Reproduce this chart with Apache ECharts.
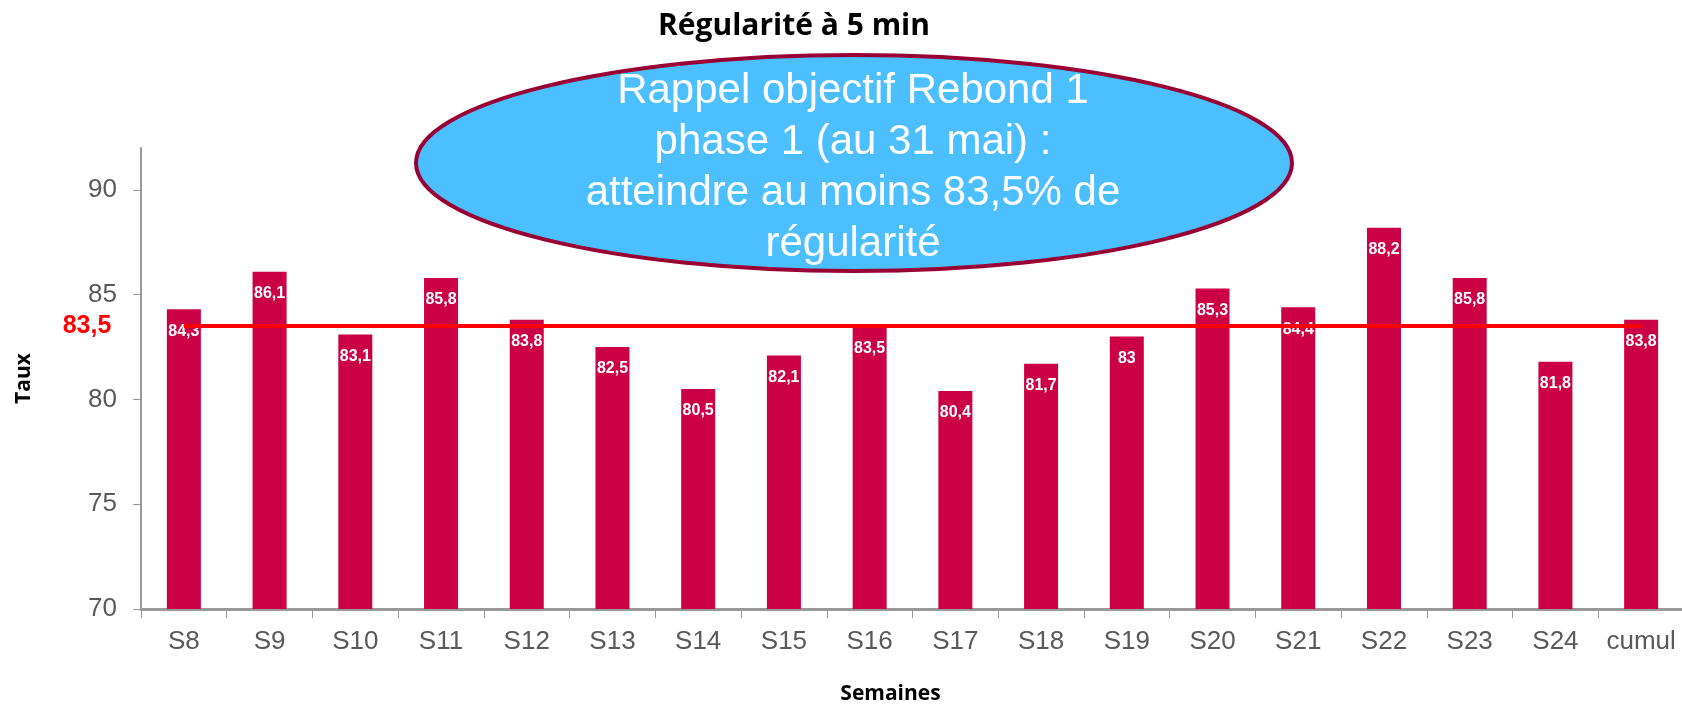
<!DOCTYPE html>
<html>
<head>
<meta charset="utf-8">
<script src="https://cdn.jsdelivr.net/npm/echarts@6/dist/echarts.min.js"></script>
<style>
html, body { margin: 0; padding: 0; background: #fff; }
#chart { width: 1682px; height: 705px; }
</style>
</head>
<body>
<div id="chart"></div>
<script>
var semaines = ['S8', 'S9', 'S10', 'S11', 'S12', 'S13', 'S14', 'S15', 'S16', 'S17', 'S18', 'S19', 'S20', 'S21', 'S22', 'S23', 'S24', 'cumul'];
var regularite = [84.3, 86.1, 83.1, 85.8, 83.8, 82.5, 80.5, 82.1, 83.5, 80.4, 81.7, 83, 85.3, 84.4, 88.2, 85.8, 81.8, 83.8];
var objectif = 83.5;
var rappelLignes = ['Rappel objectif Rebond 1', 'phase 1 (au 31 mai) :', 'atteindre au moins 83,5% de', 'régularité'];

var virgule = function (v) {
    return String(v).replace('.', ',');
};

// ligne objectif, etiquette seulement sur le premier point
var objectifData = semaines.map(function (s, i) {
    if (i === 0) {
        return { value: objectif, label: { show: true } };
    }
    return objectif;
});

var option = {
    backgroundColor: '#fff',
    animation: false,
    title: {
        text: 'Régularité à 5 min',
        left: 653,
        top: 6,
        textStyle: {
            fontFamily: 'Open Sans',
            fontWeight: 'bold',
            fontSize: 30,
            color: '#000'
        }
    },
    grid: {
        left: 141,
        top: 148,
        width: 1543,
        height: 461,
        outerBoundsMode: 'none'
    },
    xAxis: {
        type: 'category',
        data: semaines,
        name: 'Semaines',
        nameLocation: 'middle',
        nameGap: 75,
        nameTextStyle: {
            fontFamily: 'Open Sans',
            fontWeight: 'bold',
            fontSize: 21,
            color: '#000',
            padding: [0, 44, 0, 0]
        },
        axisLine: { lineStyle: { color: '#999', width: 3 } },
        axisTick: { show: true, interval: 0, length: 9, lineStyle: { color: '#999', width: 1 } },
        axisLabel: {
            interval: 0,
            margin: 20,
            fontFamily: 'Liberation Sans',
            fontSize: 26,
            color: '#595959'
        }
    },
    yAxis: {
        type: 'value',
        min: 70,
        max: 92,
        interval: 5,
        name: 'Taux',
        nameLocation: 'middle',
        nameGap: 106,
        nameTextStyle: {
            fontFamily: 'Open Sans',
            fontWeight: 'bold',
            fontSize: 21,
            color: '#000'
        },
        splitLine: { show: false },
        axisLine: { show: true, lineStyle: { color: '#999', width: 2 } },
        axisTick: { show: true, length: 8, lineStyle: { color: '#999', width: 1 } },
        axisLabel: {
            margin: 24,
            fontFamily: 'Liberation Sans',
            fontSize: 26,
            color: '#595959',
            showMaxLabel: false
        }
    },
    series: [
        {
            type: 'bar',
            data: regularite,
            barWidth: 34,
            itemStyle: { color: '#CC0044' },
            label: {
                show: true,
                position: 'insideTop',
                distance: 14,
                fontFamily: 'Liberation Sans',
                fontWeight: 'bold',
                fontSize: 16,
                color: '#fff',
                formatter: function (p) {
                    return virgule(p.value);
                }
            },
            z: 2
        },
        {
            type: 'line',
            data: objectifData,
            symbol: 'circle',
            symbolSize: 1,
            itemStyle: { color: '#FF0000' },
            lineStyle: { color: '#FF0000', width: 4 },
            label: {
                show: false,
                position: 'left',
                distance: 72,
                fontFamily: 'Liberation Sans',
                fontWeight: 'bold',
                fontSize: 25,
                color: '#FF0000',
                formatter: function (p) {
                    return virgule(p.value);
                }
            },
            z: 3
        }
    ],
    graphic: [
        {
            type: 'ellipse',
            shape: { cx: 854, cy: 163, rx: 438, ry: 108 },
            style: { fill: '#4BBFFF', stroke: '#990033', lineWidth: 4 },
            z: 10
        },
        {
            type: 'text',
            x: 853,
            y: 168,
            style: {
                text: rappelLignes.join('\n'),
                fill: '#fff',
                font: '42px "Liberation Sans"',
                lineHeight: 51,
                align: 'center',
                verticalAlign: 'middle'
            },
            z: 11
        }
    ]
};

echarts.init(document.getElementById('chart')).setOption(option);
</script>
</body>
</html>
